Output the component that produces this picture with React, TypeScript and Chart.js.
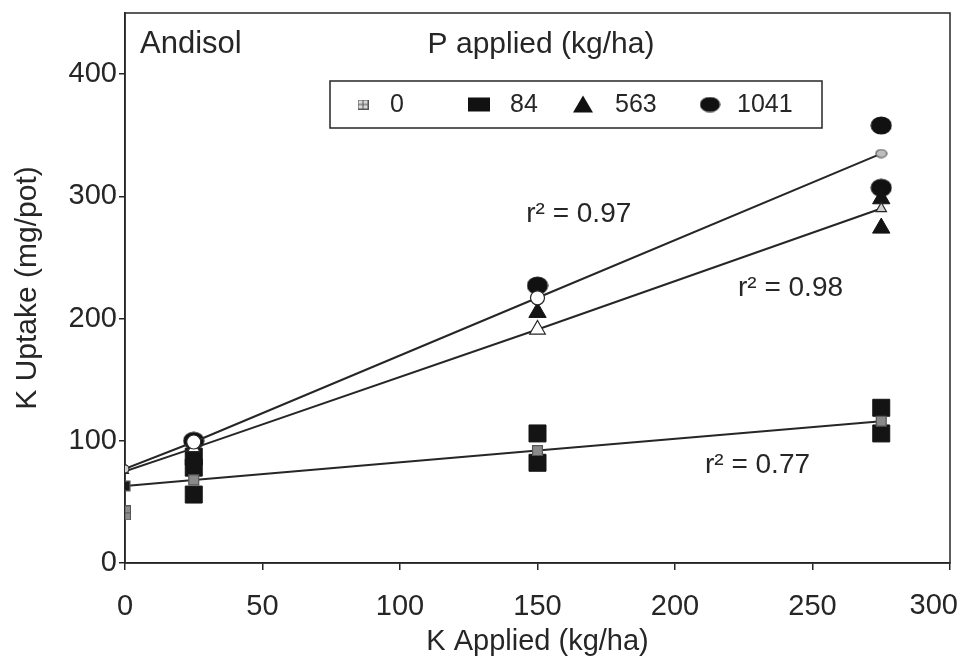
import { useEffect, useRef } from 'react';
import { Chart, registerables } from 'chart.js';

Chart.register(...registerables);

// K application levels (kg/ha) used for the fitted lines
const kLevels = [0, 25, 150, 275];

// Observed K uptake (mg/pot) for each P rate (kg/ha)
const p0K = [0];
const p0Uptake = [41];
const p84K = [25, 25, 25, 150, 150, 275, 275];
const p84Uptake = [87, 78, 56, 106, 82, 127, 106];
const p563K = [150, 275, 275];
const p563Uptake = [205, 298, 274];
const p1041K = [25, 150, 275, 275];
const p1041Uptake = [100, 227, 358, 307];

// Fitted regression lines evaluated at each K level
const fitHigh = [77, 99, 217, 335]; // r² = 0.97
const fitMid = [75, 94, 191, 290]; // r² = 0.98
const fitLow = [63, 68, 92, 116]; // r² = 0.77

const xTickValues = [0, 50, 100, 150, 200, 250, 300];
const yTickValues = [0, 100, 200, 300, 400];
const legendLabels = ['0', '84', '563', '1041'];
const r2Labels = ['r² = 0.97', 'r² = 0.98', 'r² = 0.77'];

const INK = '#262626';
const FONT = '"Liberation Sans", Arial, Helvetica, sans-serif';
const TICK_FONT = `29px ${FONT}`;

const toPoints = (xs: number[], ys: number[]) => xs.map((x, i) => ({ x, y: ys[i] }));

function hatchedSquare(w: number, h: number, fill: string, line: string) {
  const c = document.createElement('canvas');
  c.width = w;
  c.height = h;
  const g = c.getContext('2d')!;
  g.fillStyle = fill;
  g.fillRect(0, 0, w, h);
  g.strokeStyle = line;
  g.lineWidth = 1;
  g.strokeRect(0.5, 0.5, w - 1, h - 1);
  g.beginPath();
  g.moveTo(w / 2, 1);
  g.lineTo(w / 2, h - 1);
  g.moveTo(1, h / 2);
  g.lineTo(w - 1, h / 2);
  g.stroke();
  return c;
}

function ellipseMarker(w: number, h: number, fill: string, stroke: string) {
  const c = document.createElement('canvas');
  c.width = w;
  c.height = h;
  const g = c.getContext('2d')!;
  g.beginPath();
  g.ellipse(w / 2, h / 2, w / 2 - 1, h / 2 - 1, 0, 0, Math.PI * 2);
  g.fillStyle = fill;
  g.fill();
  g.strokeStyle = stroke;
  g.lineWidth = 1.2;
  g.stroke();
  return c;
}

export default function App() {
  const ref = useRef<HTMLCanvasElement | null>(null);

  useEffect(() => {
    const canvas = ref.current;
    if (!canvas) return;

    const p0Marker = hatchedSquare(12, 15, '#8c8c8c', '#555');
    const p0Legend = hatchedSquare(11, 10, '#d8d8d8', '#555');
    const bigEllipse = ellipseMarker(22, 19, '#111', '#111');
    const legendEllipse = ellipseMarker(21, 16, '#111', '#111');
    const fitEndHigh = ellipseMarker(13, 10, '#bdbdbd', '#555');
    const lastX = xTickValues[xTickValues.length - 1];

    const annotations = {
      id: 'annotations',
      beforeDatasetsDraw(chart: Chart) {
        const { ctx, chartArea: a } = chart;
        ctx.save();
        ctx.strokeStyle = INK;
        ctx.lineWidth = 1.5;
        ctx.strokeRect(a.left, a.top, a.right - a.left, a.bottom - a.top);
        ctx.restore();
      },
      afterDraw(chart: Chart) {
        const { ctx, chartArea: a } = chart;
        const xs = chart.scales.x;
        const ys = chart.scales.y;
        ctx.save();
        ctx.fillStyle = INK;
        ctx.textBaseline = 'middle';

        // last x tick label, kept inside the canvas edge
        ctx.font = TICK_FONT;
        ctx.textAlign = 'right';
        const lastW = ctx.measureText(String(lastX)).width;
        const lastRight = Math.min(xs.getPixelForValue(lastX) + lastW / 2, chart.width - 10);
        ctx.fillText(String(lastX), lastRight, a.bottom + 43);

        // panel name and legend heading
        ctx.textAlign = 'left';
        ctx.font = `31px ${FONT}`;
        ctx.fillText('Andisol', a.left + 15, a.top + 31);
        ctx.textAlign = 'center';
        ctx.font = `30px ${FONT}`;
        ctx.fillText('P applied (kg/ha)', a.left + 416, a.top + 32);

        // legend box
        const bx = a.left + 205;
        const by = a.top + 68;
        const bw = 492;
        const bh = 47;
        ctx.lineWidth = 1.5;
        ctx.strokeStyle = INK;
        ctx.strokeRect(bx, by, bw, bh);
        const cy = by + bh / 2;
        const markerX = [bx + 33, bx + 149, bx + 253, bx + 380];
        const textX = [bx + 60, bx + 180, bx + 285, bx + 407];
        ctx.drawImage(p0Legend, markerX[0] - 5.5, cy - 5);
        ctx.fillStyle = '#111';
        ctx.fillRect(markerX[1] - 11, cy - 7, 22, 14);
        ctx.beginPath();
        ctx.moveTo(markerX[2], cy - 9);
        ctx.lineTo(markerX[2] + 10, cy + 8);
        ctx.lineTo(markerX[2] - 10, cy + 8);
        ctx.closePath();
        ctx.fill();
        ctx.drawImage(legendEllipse, markerX[3] - 10.5, cy - 8);
        ctx.fillStyle = INK;
        ctx.textAlign = 'left';
        ctx.font = `25px ${FONT}`;
        legendLabels.forEach((t, i) => ctx.fillText(t, textX[i], cy + 1));

        // coefficients of determination beside each fitted line
        ctx.font = `28px ${FONT}`;
        ctx.textAlign = 'center';
        ctx.fillText(r2Labels[0], xs.getPixelForValue(165), ys.getPixelForValue(285));
        ctx.fillText(r2Labels[1], xs.getPixelForValue(242), ys.getPixelForValue(225));
        ctx.fillText(r2Labels[2], xs.getPixelForValue(230), ys.getPixelForValue(80));
        ctx.restore();
      },
    };

    const lineBase = {
      type: 'line' as const,
      showLine: true,
      borderColor: INK,
      borderWidth: 2,
      fill: false,
      order: 0,
      pointBorderColor: INK,
      pointBorderWidth: 1.2,
    };

    const chart = new Chart(canvas, {
      type: 'scatter',
      data: {
        datasets: [
          {
            ...lineBase,
            label: 'fit 1041',
            data: toPoints(kLevels, fitHigh),
            pointStyle: ['circle', 'circle', 'circle', fitEndHigh] as any,
            pointRadius: [4, 7, 7, 6],
            pointBackgroundColor: ['#d0d0d0', '#fff', '#fff', '#bdbdbd'],
          },
          {
            ...lineBase,
            label: 'fit 563',
            data: toPoints(kLevels, fitMid),
            pointStyle: 'triangle',
            pointRadius: [4, 7, 9, 6],
            pointBackgroundColor: ['#d0d0d0', '#fff', '#fff', '#d0d0d0'],
          },
          {
            ...lineBase,
            label: 'fit 84',
            data: toPoints(kLevels, fitLow),
            pointStyle: 'rect',
            pointRadius: [7, 7, 7, 7],
            pointBackgroundColor: ['#1a1a1a', '#8a8a8a', '#8a8a8a', '#8a8a8a'],
            pointBorderColor: '#555',
          },
          {
            label: '0',
            data: toPoints(p0K, p0Uptake),
            pointStyle: p0Marker as any,
            pointRadius: 7,
            order: 1,
          },
          {
            label: '84',
            data: toPoints(p84K, p84Uptake),
            pointStyle: 'rect',
            pointRadius: 12,
            backgroundColor: '#141414',
            borderColor: '#141414',
            order: 1,
          },
          {
            label: '563',
            data: toPoints(p563K, p563Uptake),
            pointStyle: 'triangle',
            pointRadius: 10,
            backgroundColor: '#141414',
            borderColor: '#141414',
            order: 1,
          },
          {
            label: '1041',
            data: toPoints(p1041K, p1041Uptake),
            pointStyle: bigEllipse as any,
            pointRadius: 10,
            order: 1,
          },
        ],
      },
      options: {
        animation: false,
        responsive: false,
        devicePixelRatio: 1,
        layout: { padding: { left: 0, right: 18, top: 10, bottom: 0 } },
        plugins: {
          legend: { display: false },
          tooltip: { enabled: false },
          title: { display: false },
        },
        scales: {
          x: {
            type: 'linear',
            min: 0,
            max: 300,
            afterFit: (s: any) => {
              s.height = 100;
              s.paddingLeft = 0;
              s.paddingRight = 0;
            },
            afterBuildTicks: (s: any) => {
              s.ticks = xTickValues.map((v) => ({ value: v }));
            },
            grid: { drawOnChartArea: false, tickLength: 7, color: INK, lineWidth: 1.5 },
            border: { color: INK, width: 1.5 },
            ticks: {
              color: INK,
              font: { family: FONT, size: 29 },
              padding: 20,
              maxRotation: 0,
              // the last label is drawn by the annotations plugin
              callback: (v: any) => (v === lastX ? '' : String(v)),
            },
            title: {
              display: true,
              text: 'K Applied (kg/ha)',
              color: INK,
              font: { family: FONT, size: 29 },
              padding: { top: 0, bottom: 4 },
            },
          },
          y: {
            type: 'linear',
            min: 0,
            max: 450,
            afterFit: (s: any) => {
              s.width = 125;
              s.paddingTop = 0;
              s.paddingBottom = 0;
            },
            afterBuildTicks: (s: any) => {
              s.ticks = yTickValues.map((v) => ({ value: v }));
            },
            grid: { drawOnChartArea: false, tickLength: 6, color: INK, lineWidth: 1.5 },
            border: { color: INK, width: 1.5 },
            ticks: { color: INK, font: { family: FONT, size: 29 }, padding: 2 },
            title: {
              display: true,
              text: 'K Uptake (mg/pot)',
              color: INK,
              font: { family: FONT, size: 30 },
              padding: { top: 10, bottom: 0 },
            },
          },
        },
      },
      plugins: [annotations],
    });

    return () => chart.destroy();
  }, []);

  return (
    <div style={{ position: 'absolute', left: 0, top: 0, width: 968, height: 663, background: '#fff' }}>
      <canvas ref={ref} width={968} height={663} />
    </div>
  );
}
